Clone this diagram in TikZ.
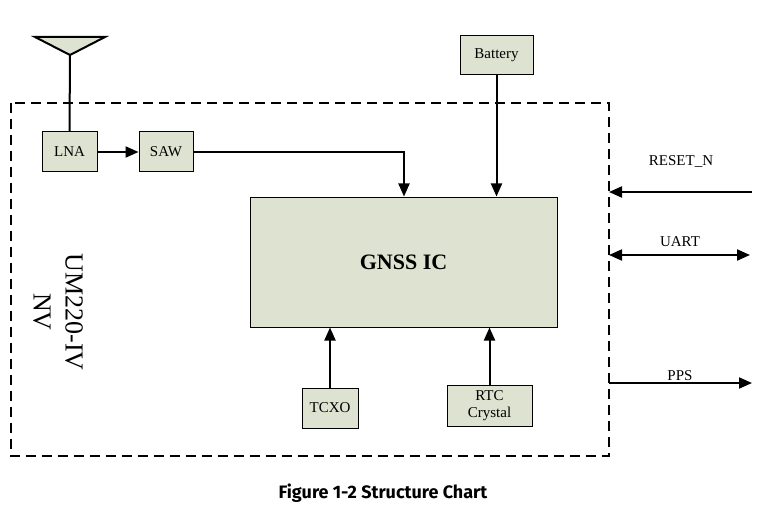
\documentclass[tikz,border=0pt]{standalone}
\usepackage{fontspec}
\setmainfont{Liberation Serif}
\newfontfamily\capfont{Fira Sans}
\usetikzlibrary{arrows.meta}
\definecolor{boxfill}{HTML}{DDE3D0}
\begin{document}
\begin{tikzpicture}[x=1pt,y=-1pt,
    blk/.style={draw, fill=boxfill, line width=1pt, inner sep=0pt, font=\fontsize{15}{17}\selectfont},
    wire/.style={line width=2pt},
    arr/.style={wire, -{Triangle[length=13pt,width=11pt]}},
    lbl/.style={font=\fontsize{15}{17}\selectfont}]
  \useasboundingbox (0,0) rectangle (766,524);
  % module outline
  \draw[line width=2pt, dash pattern=on 10pt off 6pt] (11,103) rectangle (609,456);
  % antenna
  \draw[wire, fill=boxfill] (35,37) -- (105,37) -- (70,55) -- cycle;
  \coordinate (ant) at (70,55);
  % blocks
  \node[blk, minimum width=55pt, minimum height=40pt] (lna) at (69.5,152) {LNA};
  \node[blk, minimum width=54pt, minimum height=40pt] (saw) at (166,152) {SAW};
  \node[blk, minimum width=73pt, minimum height=39pt] (bat) at (496.5,55.5) {Battery};
  \node[blk, minimum width=307pt, minimum height=130pt, font=\fontsize{22}{26}\selectfont\bfseries] (gnss) at (403.5,262) {GNSS IC};
  \node[blk, minimum width=56pt, minimum height=40pt] (tcxo) at (330,408) {TCXO};
  \node[blk, minimum width=85pt, minimum height=41pt, align=center, font=\fontsize{15}{17}\selectfont] (rtc) at (489.5,405.5) {RTC\\Crystal};
  % connectors
  \draw[wire] (ant) -- (lna.north);
  \draw[arr] (lna) -- (saw);
  \draw[arr] (saw.east) -| (gnss.north -| 404,0);
  \draw[arr] (bat.south) -- (bat.south |- gnss.north);
  \draw[arr] (tcxo.north) -- (tcxo.north |- gnss.south);
  \draw[arr] (rtc.north) -- (rtc.north |- gnss.south);
  % interface
  \coordinate (rs0) at (752,192); \coordinate (rs1) at (609,192);
  \coordinate (ua0) at (609,255); \coordinate (ua1) at (750,255);
  \coordinate (pp0) at (609,383); \coordinate (pp1) at (752,383);
  \draw[arr] (rs0) -- (rs1);
  \draw[wire, {Triangle[length=13pt,width=11pt]}-{Triangle[length=13pt,width=11pt]}] (ua0) -- (ua1);
  \draw[arr] (pp0) -- (pp1);
  \node[lbl] (lrs) at (681,162) {RESET\_N};
  \node[lbl] (lua) at (680,242) {UART};
  \node[lbl] (lpp) at (680,376) {PPS};
  % module name
  \node[rotate=-90, align=center, font=\fontsize{26}{32}\selectfont] (name) at (58,312) {UM220-IV\\NV};
  % caption
  \node[font=\capfont\bfseries\fontsize{18}{22}\selectfont] (cap) at (383,493) {Figure 1-2 Structure Chart};
\end{tikzpicture}
\end{document}
